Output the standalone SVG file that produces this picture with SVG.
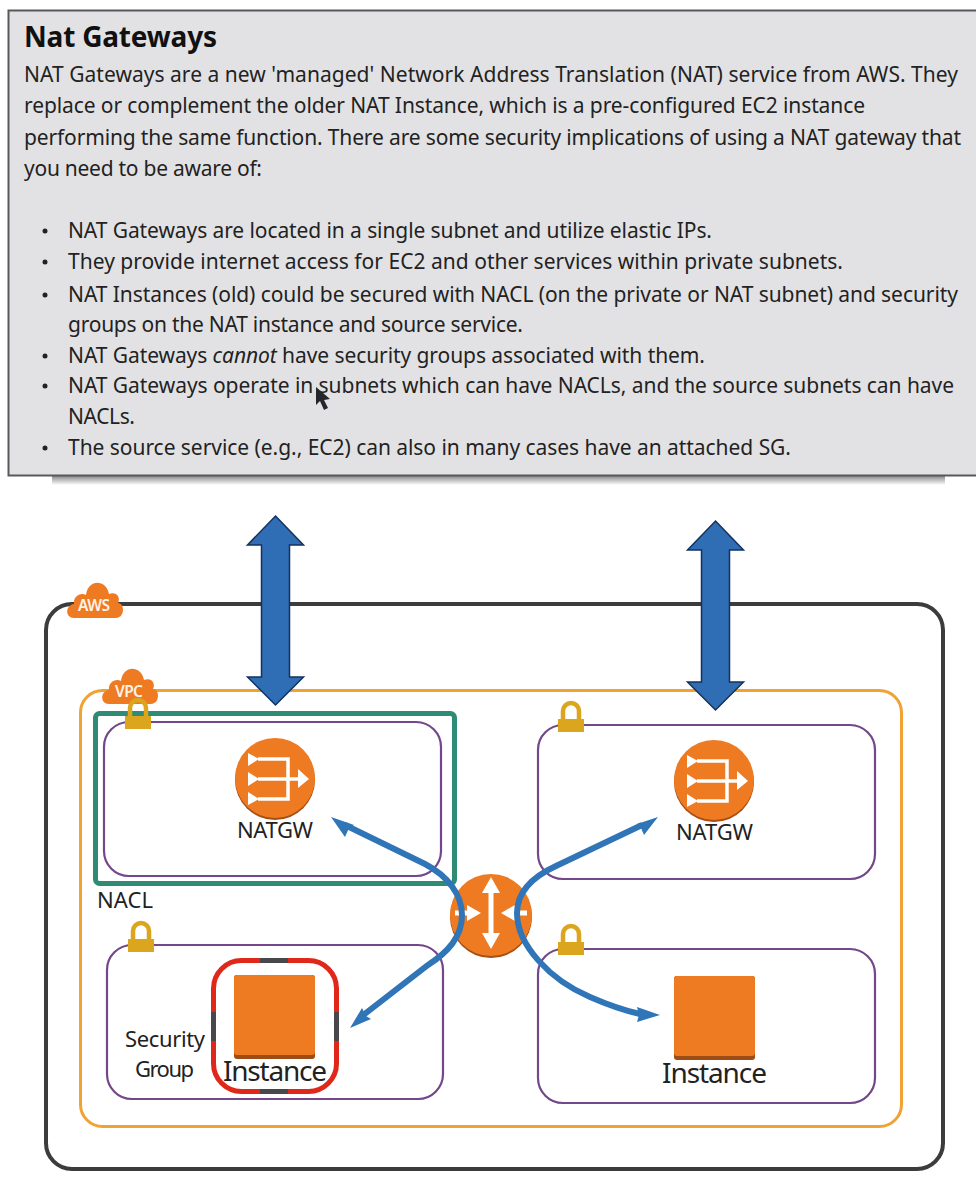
<svg xmlns="http://www.w3.org/2000/svg" width="976" height="1192" viewBox="0 0 976 1192">
<defs>
<linearGradient id="sh" x1="0" y1="0" x2="0" y2="1"><stop offset="0" stop-color="#8a8a8a"/><stop offset="1" stop-color="#ffffff"/></linearGradient>
<g id="lock"><path d="M-8,12 V-3 A8,8 0 0 1 8,-3 V12" fill="none" stroke="#dca51e" stroke-width="4.5"/><rect x="-13" y="5" width="26" height="13" fill="#dca51e"/></g>
<g id="cloud"><path d="M-20,36 C-29,36 -29,23 -20,22 C-21,14 -13,10 -8,13 C-6,-3 12,-3 15,12 C22,9 27,15 24,21 C31,21 31,36 22,36 Z" fill="#ee7a22"/></g>
<g id="natIcon"><circle cx="0" cy="2" r="40" fill="#a64f14"/><circle cx="0" cy="0" r="40" fill="#ee7a22"/>
<path d="M-17,-19 H13 V21 H-17 M-17,1 H24" fill="none" stroke="#fff" stroke-width="3.5"/>
<path d="M-27,-25 L-16,-19 L-27,-12 Z M-27,-6 L-16,1 L-27,8 Z M-27,14 L-16,21 L-27,27 Z M23,-9 L34,1 L23,10 Z" fill="#fff"/></g>
<g id="instIcon"><rect x="0" y="0" width="81" height="84" rx="3" fill="#9c4c14"/><rect x="0" y="0" width="81" height="80" rx="3" fill="#ee7a22"/></g>
<path id="bigArrow" d="M0,0 L28,29 H14 V161 H28 L0,189 L-28,161 H-14 V29 H-28 Z" fill="#2f6db5" stroke="#14325c" stroke-width="1.5"/>
</defs>
<style>
text{font-family:"Noto Sans","Open Sans",sans-serif;fill:#222}
.b{font-size:21px}
.l{font-size:22px}
.c{font-size:15.5px;fill:#fdf3e8;font-weight:600}
.sub{fill:#fff;stroke:#74468a;stroke-width:2.2}
.con{fill:none;stroke:#2f75b8;stroke-width:6;stroke-linecap:butt}
.head{fill:#2f75b8}
</style>
<rect width="976" height="1192" fill="#fff"/>
<g id="panel">
<rect x="52" y="476" width="893" height="9" fill="url(#sh)"/>
<rect x="8.500" y="10.500" width="975" height="465" fill="#e2e2e4" stroke="#58585a" stroke-width="2"/>
<text x="24" y="47" font-size="28" font-weight="700" textLength="193" style="fill:#111">Nat Gateways</text>
<text class="b" x="24" y="82" textLength="934">NAT Gateways are a new 'managed' Network Address Translation (NAT) service from AWS. They</text>
<text class="b" x="24" y="113" textLength="841">replace or complement the older NAT Instance, which is a pre-configured EC2 instance</text>
<text class="b" x="24" y="145" textLength="937">performing the same function. There are some security implications of using a NAT gateway that</text>
<text class="b" x="24" y="176" textLength="238">you need to be aware of:</text>
<g fill="#222"><circle cx="45" cy="231" r="2.500"/><circle cx="45" cy="262" r="2.500"/><circle cx="45" cy="295" r="2.500"/><circle cx="45" cy="356" r="2.500"/><circle cx="45" cy="386" r="2.500"/><circle cx="45" cy="448" r="2.500"/></g>
<text class="b" x="68" y="238" textLength="644">NAT Gateways are located in a single subnet and utilize elastic IPs.</text>
<text class="b" x="68" y="269" textLength="775">They provide internet access for  EC2 and other services within private subnets.</text>
<text class="b" x="68" y="302" textLength="890">NAT Instances (old) could be secured with NACL (on the private or NAT subnet) and security</text>
<text class="b" x="68" y="332" textLength="455">groups on the NAT instance and source service.</text>
<text class="b" x="68" y="363" textLength="637">NAT Gateways <tspan font-style="italic">cannot</tspan> have security groups associated with them.</text>
<text class="b" x="68" y="393" textLength="886">NAT Gateways operate in subnets which can have NACLs, and the source subnets can have</text>
<text class="b" x="68" y="424" textLength="67">NACLs.</text>
<text class="b" x="68" y="455" textLength="723">The source service (e.g., EC2) can also in many cases have an attached SG.</text>
<path id="cursor" d="M316,387 L316,405 L320,401 L324,410 L328,408 L324,400 L330,399 Z" fill="#26262a"/>
</g>
<g id="aws"><rect x="46" y="604" width="897" height="565" rx="26" fill="none" stroke="#3c3c3e" stroke-width="4"/></g>
<g id="vpc"><rect x="80.500" y="690.500" width="821" height="436" rx="22" fill="none" stroke="#f0a233" stroke-width="3"/></g>
<g id="subnet-tr"><rect class="sub" x="538" y="725" width="337" height="154" rx="25"/><use href="#lock" x="571" y="714"/></g>
<g id="subnet-bl"><rect class="sub" x="107" y="945" width="336" height="154" rx="25"/><use href="#lock" x="141" y="934"/></g>
<g id="subnet-br"><rect class="sub" x="538" y="949" width="337" height="154" rx="25"/><use href="#lock" x="571" y="937"/></g>
<g id="subnet-tl"><rect class="sub" x="104" y="722" width="337" height="154" rx="25"/></g>
<g id="nacl"><rect x="95.500" y="713.500" width="359" height="170" rx="4" fill="none" stroke="#2e8b76" stroke-width="5"/><text class="l" x="97" y="908" textLength="56">NACL</text></g>
<g id="aws-cloud"><use href="#cloud" x="94" y="582"/><text class="c" x="78" y="611" textLength="32">AWS</text></g>
<g id="vpc-cloud"><use href="#cloud" x="129" y="668"/><text class="c" x="115" y="697" textLength="28">VPC</text></g>
<g id="lock-tl"><use href="#lock" x="138" y="711"/></g>
<g id="natgw-left"><use href="#natIcon" x="275" y="778"/><text class="l" x="237" y="838" textLength="76">NATGW</text></g>
<g id="natgw-right"><use href="#natIcon" x="714" y="780"/><text class="l" x="676" y="840" textLength="77">NATGW</text></g>
<g id="security-group">
<rect x="213.500" y="960.500" width="123" height="131" rx="28" fill="none" stroke="#e0281a" stroke-width="5"/>
<path d="M260,960.500 H288 M260,1091.500 H288 M213.500,1012 V1041 M336.500,1012 V1041" stroke="#48484c" stroke-width="5" fill="none"/>
<text class="l" x="125" y="1047" textLength="80">Security</text><text class="l" x="135" y="1077" textLength="59">Group</text>
</g>
<g id="instance-left"><use href="#instIcon" x="234" y="975"/><text x="223" y="1081" font-size="28" textLength="104">Instance</text></g>
<g id="instance-right"><use href="#instIcon" x="674" y="976"/><text x="662" y="1083" font-size="28" textLength="105">Instance</text></g>
<g id="router"><circle cx="491" cy="917" r="41" fill="#a64f14"/><circle cx="491" cy="915" r="41" fill="#ee7a22"/>
<path d="M491,890 V937 M455,913 H471 M511,913 H527" stroke="#fff" stroke-width="5" fill="none"/>
<path d="M491,877 L500,893 H482 Z M491,949 L500,933 H482 Z M481,913 L467,905 V921 Z M501,913 L515,905 V921 Z" fill="#fff"/></g>
<g id="connectors">
<use href="#bigArrow" x="275.500" y="516"/>
<use href="#bigArrow" x="715.500" y="521"/>
<path class="con" d="M345,825 L425,864 C448,876 462,895 462,915 C462,937 448,952 428,965 L362,1016"/>
<path class="con" d="M642,825 L556,866 C532,877 517,893 517,913 C517,945 550,980 590,997 C606,1004 622,1010 640,1014"/>
<path class="head" d="M331,817 L354,825 L349,828 L345,837 Z"/>
<path class="head" d="M350,1028 L371,1019 L366,1016 L362,1008 Z"/>
<path class="head" d="M658,817 L637,824 L641,828 L644,835 Z"/>
<path class="head" d="M660,1015 L637,1007 L639,1015 L637,1022 Z"/>
</g>
</svg>
